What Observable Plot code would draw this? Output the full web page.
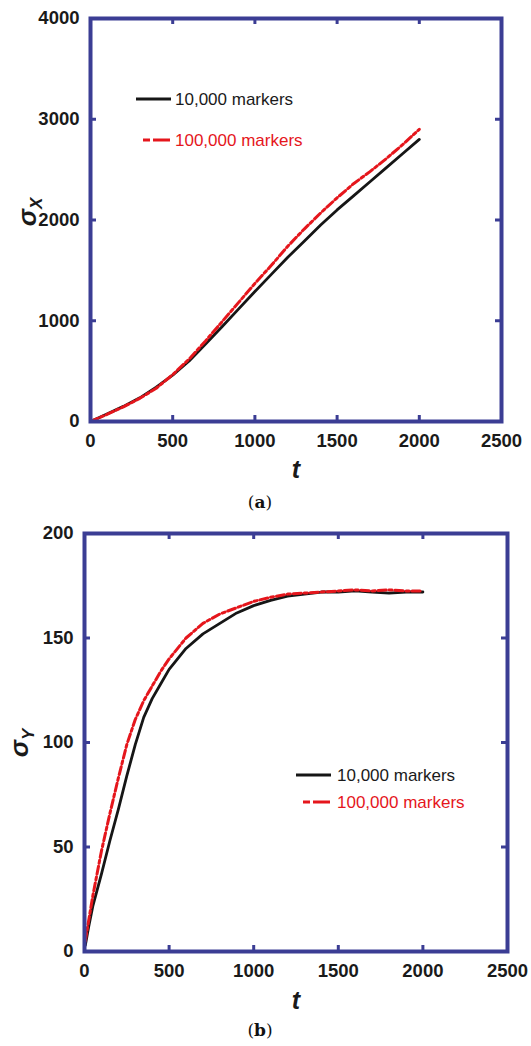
<!DOCTYPE html>
<html><head><meta charset="utf-8">
<script src="https://cdn.jsdelivr.net/npm/d3@7"></script>
<script src="https://cdn.jsdelivr.net/npm/@observablehq/plot@0.6"></script>
<style>
body{margin:0;background:#fff;width:531px;height:1046px;position:relative;overflow:hidden;font-family:"Liberation Sans",Arial,sans-serif}
.panel{position:absolute;left:0}
.cap{position:absolute;font-family:"DejaVu Serif","Liberation Serif",serif;font-size:17px;color:#111;text-align:center;width:60px;line-height:20px}
</style></head><body>
<div id="a" class="panel" style="top:0"></div>
<div id="b" class="panel" style="top:510px"></div>
<div class="cap" style="left:230px;top:492px">(<b>a</b>)</div>
<div class="cap" style="left:230px;top:1020px">(<b>b</b>)</div>
<script>
// ---- data: panel (a) sigma_X ----
const tA = [0,100,200,300,400,500,600,700,800,900,1000,1100,1200,1300,1400,1500,1600,1700,1800,1900,2000];
const sxBlack = [0,75,150,235,340,460,600,770,940,1115,1290,1460,1630,1790,1950,2100,2240,2380,2520,2660,2800];
const sxRed   = [0,70,145,230,330,465,620,800,990,1180,1370,1550,1740,1910,2070,2220,2360,2480,2610,2750,2900];
// ---- data: panel (b) sigma_Y ----
const tB = [5,25,50,100,150,200,250,300,350,400,450,500,600,700,800,900,1000,1100,1200,1300,1400,1500,1600,1700,1800,1900,2000];
const syBlack = [3,12,22,37,53,68,84,99,112,121,128,135,145,152,157,162,165.5,168,170,171,172,172,172.5,172,171.5,172,172];
const syRed   = [5,15,27,48,66,83,99,111,120,127,134,140,150,157,161.5,164.5,167.5,169.5,171,171.5,172,172.5,173,172.5,173,172.5,172.5];
// ---- axes ----
const xTickLabels = [0,500,1000,1500,2000,2500];
const xInnerTicks = [500,1000,1500,2000];
const yTickLabelsA = [0,1000,2000,3000,4000];
const yInnerTicksA = [1000,2000,3000];
const yTickLabelsB = [0,50,100,150,200];
const yInnerTicksB = [50,100,150];
const seriesNames = ["10,000 markers","100,000 markers"];

const FRAME = "#3b3d94", RED = "#e5161c", BLACK = "#161616";
const FONT = "Liberation Sans, Arial, sans-serif";

function chart({t, s1, s2, yDomain, yLabels, yTicks, height, mt, mb, ml, mr, tdy, sym, sub, symPos, leg}) {
  const width = 531;
  const d1 = t.map((x,i)=>({t:x, v:s1[i]}));
  const d2 = t.map((x,i)=>({t:x, v:s2[i]}));
  const innerH = height-mt-mb, innerW = width-ml-mr;
  const tk = {stroke: FRAME, strokeWidth: 3};
  const lab = {tickSize: 0, fontSize: 18.5, fontWeight: "bold", fill: "#1a1a1a", label: null, tickFormat: d => String(d)};
  const svg = Plot.plot({
    width, height, marginTop: mt, marginBottom: mb, marginLeft: ml, marginRight: mr,
    x: {domain: [0,2500]}, y: {domain: yDomain},
    style: {fontFamily: FONT, background: "white", overflow: "visible"},
    marks: [
      Plot.line(d1, {x:"t", y:"v", stroke: BLACK, strokeWidth: 2.8}),
      Plot.line(d2, {x:"t", y:"v", stroke: RED, strokeWidth: 3, strokeDasharray: "8,3,3,3"}),
      Plot.tickX(xInnerTicks, {x: d=>d, ...tk, insetTop: innerH-6}),
      Plot.tickX(xInnerTicks, {x: d=>d, ...tk, insetBottom: innerH-6}),
      Plot.tickY(yTicks, {y: d=>d, ...tk, insetRight: innerW-6}),
      Plot.tickY(yTicks, {y: d=>d, ...tk, insetLeft: innerW-6}),
      Plot.frame({stroke: FRAME, strokeWidth: 4}),
      Plot.axisX(xTickLabels, {...lab, tickPadding: 12}),
      Plot.axisY(yLabels, {...lab, tickPadding: 11}),
      Plot.text(["t"], {frameAnchor: "bottom", lineAnchor: "bottom", dy: tdy, fontSize: 25, fontStyle: "italic", fontWeight: "bold", fill: "#1a1a1a"})
    ]
  });
  const s = d3.select(svg);
  const yl = s.append("text")
    .attr("transform", `translate(${symPos[0]},${symPos[1]}) rotate(-90)`)
    .attr("text-anchor", "middle")
    .attr("font-family", FONT).attr("font-weight", "bold").attr("font-style", "italic")
    .attr("fill", "#1a1a1a");
  yl.append("tspan").attr("font-size", 26).text(sym);
  yl.append("tspan").attr("font-size", 17).attr("dy", 6).text(sub);
  // legend
  const g = s.append("g").attr("font-family", FONT).attr("font-size", 17).attr("text-anchor", "start");
  g.append("line").attr("x1", leg.bx1).attr("x2", leg.bx2).attr("y1", leg.by).attr("y2", leg.by)
    .attr("stroke", BLACK).attr("stroke-width", 2.8);
  g.append("text").attr("x", leg.tx).attr("y", leg.by).attr("dy", "0.35em").attr("fill", "#1a1a1a").text(seriesNames[0]);
  g.append("line").attr("x1", leg.rx1).attr("x2", leg.rx2).attr("y1", leg.ry).attr("y2", leg.ry)
    .attr("stroke", RED).attr("stroke-width", 3).attr("stroke-dasharray", "7,3,17");
  g.append("text").attr("x", leg.tx).attr("y", leg.ry).attr("dy", "0.35em").attr("fill", RED).text(seriesNames[1]);
  return svg;
}

document.getElementById("a").appendChild(chart({
  t: tA, s1: sxBlack, s2: sxRed, yDomain: [0,4000], yLabels: yTickLabelsA, yTicks: yInnerTicksA,
  height: 490, mt: 18, mb: 69, ml: 90, mr: 30, tdy: 56, sym: "σ", sub: "X", symPos: [36, 212],
  leg: {bx1: 136, bx2: 171, by: 99, rx1: 143, rx2: 170, ry: 140, tx: 175}
}));
document.getElementById("b").appendChild(chart({
  t: tB, s1: syBlack, s2: syRed, yDomain: [0,200], yLabels: yTickLabelsB, yTicks: yInnerTicksB,
  height: 510, mt: 23, mb: 69, ml: 84, mr: 24, tdy: 57, sym: "σ", sub: "Y", symPos: [28, 233],
  leg: {bx1: 296, bx2: 331, by: 265, rx1: 303, rx2: 331, ry: 292, tx: 337}
}));
</script>
</body></html>
